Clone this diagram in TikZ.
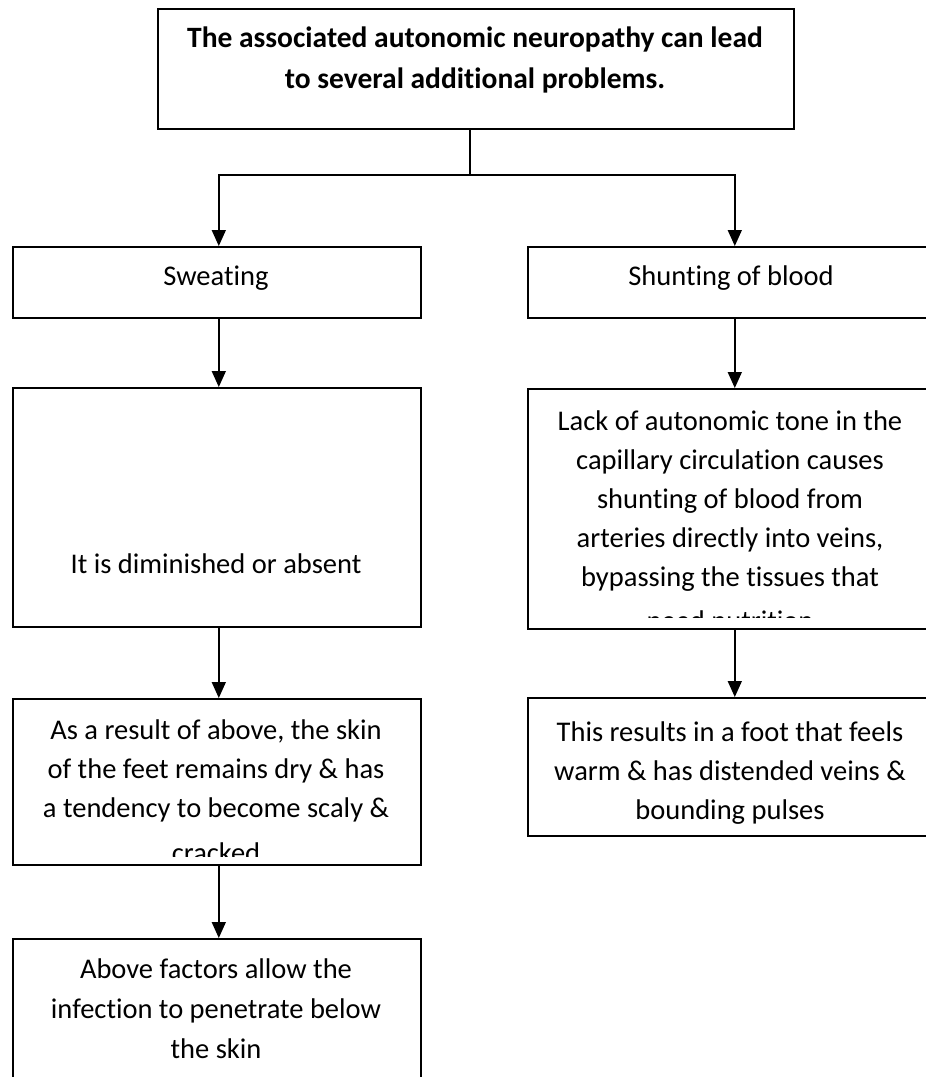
\documentclass[tikz,border=0pt]{standalone}
\usepackage{fontspec}
\setmainfont{Carlito}[Ligatures=NoCommon]
\usetikzlibrary{arrows.meta}
\begin{document}
\begin{tikzpicture}[x=1pt,y=-1pt,
  box/.style={draw, line width=1.6pt, inner sep=0pt, anchor=north west, rectangle},
  txt/.style={anchor=base, inner sep=0pt, text width=420pt, align=flush center, font=\fontsize{28.5}{39}\selectfont},
  boldtxt/.style={txt, font=\bfseries\fontsize{29.5}{41}\selectfont},
  arr/.style={line width=1.6pt, -{Triangle[width=14pt,length=16pt]}},
  conn/.style={line width=1.6pt}]
\useasboundingbox (0,0) rectangle (926,1077);
\clip (0,0) rectangle (926,1077);
% boxes
\node[box, minimum width=636pt, minimum height=120pt] (top) at (157,8) {};
\node[box, minimum width=408pt, minimum height=71pt] (sweat) at (12,246) {};
\node[box, minimum width=407pt, minimum height=71pt] (shunt) at (527,246) {};
\node[box, minimum width=408pt, minimum height=239pt] (dim) at (12,387) {};
\node[box, minimum width=407pt, minimum height=240pt] (lack) at (527,388) {};
\node[box, minimum width=408pt, minimum height=166pt] (skin) at (12,698) {};
\node[box, minimum width=407pt, minimum height=138pt] (warm) at (527,697) {};
\node[box, minimum width=408pt, minimum height=170pt] (infect) at (12,938) {};
% texts
\node[boldtxt, text width=620pt] (toptext) at (475,47) {The associated autonomic neuropathy can lead\\to several additional problems.};
\node[txt] (sweattext) at (216,285) {Sweating};
\node[txt] (shunttext) at (731,285) {Shunting of blood};
\node[txt] (dimtext) at (216,573) {It is diminished or absent};
\begin{scope}
\clip (527,388) rectangle (934,617);
\node[txt] (lacktext) at (730,430) {Lack of autonomic tone in the\\capillary circulation causes\\shunting of blood from\\arteries directly into veins,\\bypassing the tissues that\\[5pt]need nutrition};
\end{scope}
\begin{scope}
\clip (12,698) rectangle (420,856);
\node[txt] (skintext) at (216,739) {As a result of above, the skin\\of the feet remains dry \& has\\a tendency to become scaly \&\\[6pt]cracked};
\end{scope}
\node[txt] (warmtext) at (730,741) {This results in a foot that feels\\warm \& has distended veins \&\\bounding pulses};
\node[txt, font=\fontsize{28.5}{40}\selectfont] (infecttext) at (216,978) {Above factors allow the\\infection to penetrate below\\the skin};
% connectors
\coordinate (j) at (470,175);
\draw[conn] (j |- top.south) -- (j);
\draw[arr] (j) -| ([xshift=2pt]sweat.north);
\draw[arr] (j) -| ([xshift=3.5pt]shunt.north);
\draw[arr] ([xshift=2pt]sweat.south) -- ([xshift=2pt]dim.north);
\draw[arr] ([xshift=3.5pt]shunt.south) -- ([xshift=3.5pt]lack.north);
\draw[arr] ([xshift=2pt]dim.south) -- ([xshift=2pt]skin.north);
\draw[arr] ([xshift=3.5pt]lack.south) -- ([xshift=3.5pt]warm.north);
\draw[arr] ([xshift=2pt]skin.south) -- ([xshift=2pt]infect.north);
\end{tikzpicture}
\end{document}
